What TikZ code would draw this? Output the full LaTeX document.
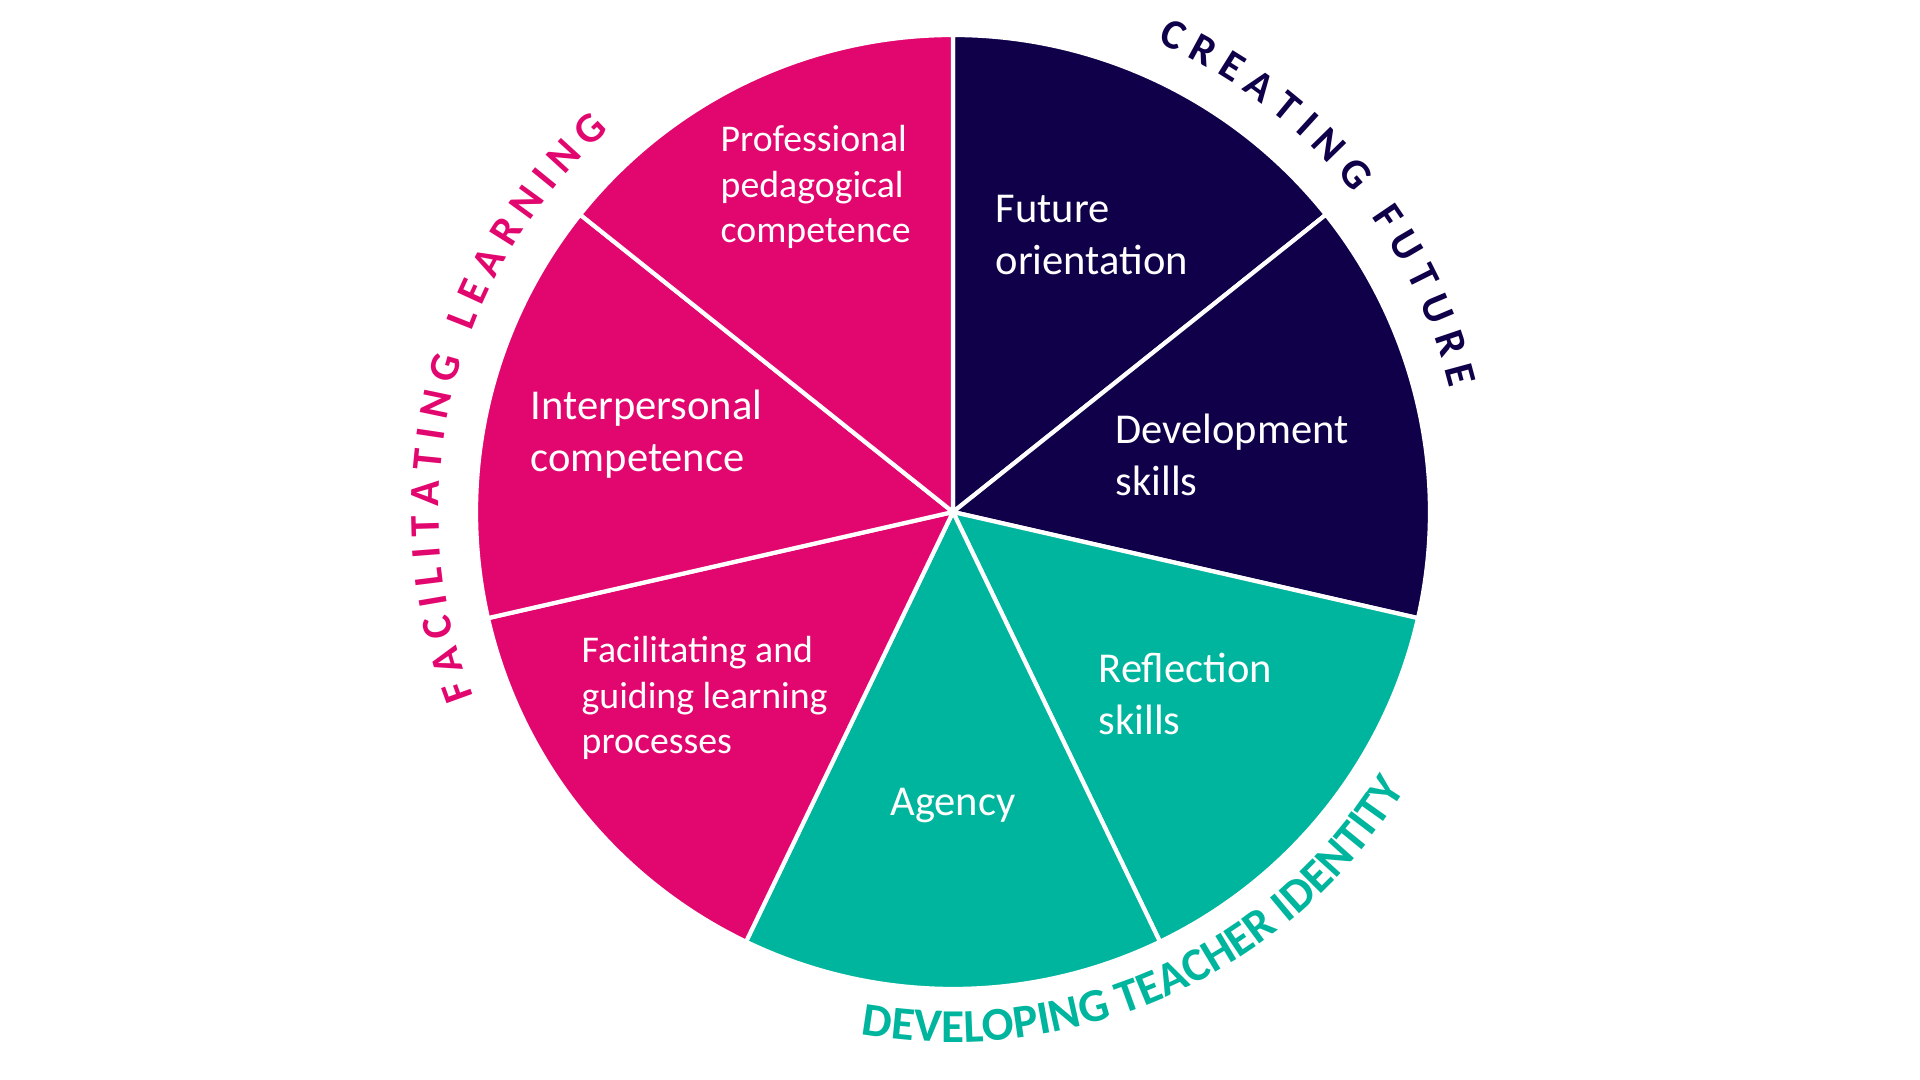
\documentclass[tikz,border=0pt]{standalone}
\usepackage{fontspec}
\setmainfont{Carlito}
\usetikzlibrary{decorations.text}

\definecolor{wheelpink}{HTML}{E2076F}
\definecolor{wheelnavy}{HTML}{10004A}
\definecolor{wheelteal}{HTML}{00B59E}

\begin{document}
\begin{tikzpicture}[
    sector/.style={draw=white, line width=1.2pt},
    biglabel/.style={text=white, align=left, anchor=west, inner sep=0pt, font=\fontsize{12.1}{14.7}\selectfont},
    smalllabel/.style={text=white, align=left, anchor=west, inner sep=0pt, font=\fontsize{10.75}{12.9}\selectfont}]
    \useasboundingbox (-9.53,-5.68) rectangle (9.67,5.12);

    % seven equal slices, clockwise from the top
    \foreach \col [count=\i] in {wheelnavy,wheelnavy,wheelteal,wheelteal,wheelpink,wheelpink,wheelpink}
        \path[fill=\col, sector] (0,0) -- ({90-(\i-1)*360/7}:4.77)
            arc[start angle={90-(\i-1)*360/7}, delta angle={-360/7}, radius=4.77] -- cycle;

    \node[smalllabel] (prof) at (-2.33,3.25) {Professional\\pedagogical\\competence};
    \node[biglabel] (future) at (0.42,2.77) {Future\\orientation};
    \node[biglabel] (devel) at (1.62,0.57) {Development\\skills};
    \node[biglabel] (inter) at (-4.23,0.78) {Interpersonal\\competence};
    \node[biglabel] (refl) at (1.45,-1.82) {Reflection\\skills};
    \node[smalllabel] (facil) at (-3.72,-1.86) {Facilitating and\\guiding learning\\processes};
    \node[biglabel, anchor=center] (agency) at (0,-2.94) {Agency};

    % titles round the wheel
    \path[decorate, decoration={text along path, text align=fit to path, text color=wheelnavy,
        text={|\fontsize{12}{14}\bfseries\selectfont|CREATING FUTURE}}]
        (66.5:5.12) arc[start angle=66.5, end angle=14, radius=5.12];
    \path[decorate, decoration={text along path, text align=fit to path, text color=wheelpink,
        text={|\fontsize{12}{14}\bfseries\selectfont|FACILITATING LEARNING}}]
        (201:5.14) arc[start angle=201, end angle=132, radius=5.14];
    \path[decorate, decoration={text along path, text align=fit to path, text color=wheelteal,
        text={|\fontsize{13.4}{16}\bfseries\selectfont|DEVELOPING TEACHER IDENTITY}}]
        (260:5.3) arc[start angle=260, end angle=328.5, radius=5.3];
\end{tikzpicture}
\end{document}
